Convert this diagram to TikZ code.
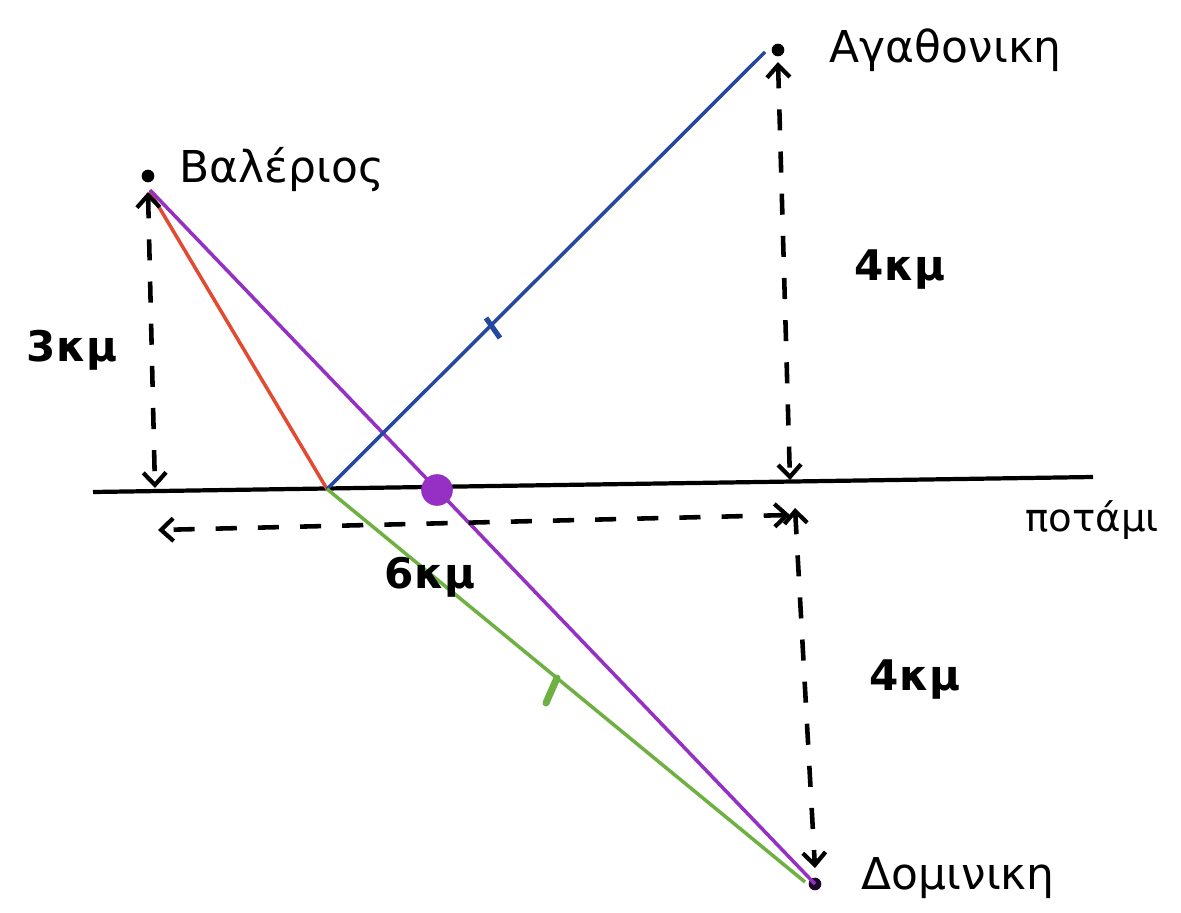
\documentclass[tikz,border=0pt]{standalone}
\usepackage{fontspec}
\setmainfont{DejaVu Sans}
\usetikzlibrary{arrows.meta, positioning}
\definecolor{redline}{RGB}{226,74,50}
\definecolor{purpleline}{RGB}{150,48,196}
\definecolor{blueline}{RGB}{36,72,160}
\definecolor{greenline}{RGB}{110,176,66}

\begin{document}
\begin{tikzpicture}[x=0.02cm, y=-0.02cm,
  dist/.style={line width=2.6pt, dash pattern=on 12pt off 12pt, <->,
    >={Straight Barb[length=7pt,width=13pt,line width=2.4pt]}},
  lbl/.style={font=\fontsize{25}{30}\selectfont, inner sep=2pt},
  kmlbl/.style={font=\fontsize{24}{30}\selectfont\bfseries, inner sep=2pt}]
\useasboundingbox (0,0) rectangle (1181,913);
% towns and river
\coordinate (V) at (148,176);
\coordinate (A) at (778,50);
\coordinate (D) at (815,884);
\coordinate (P) at (327,489);
\coordinate (M) at (437,490);
\draw[line width=2.4pt] (93,492) coordinate (r1) -- (1093,477) coordinate (r2);
\fill (V) circle (3.6pt);
\fill (A) circle (3.6pt);
\fill[black!80!purpleline] (D) circle (3.6pt);
\node[lbl, anchor=west] (vname) at (176,170) {Βαλέριος};
\node[lbl, anchor=west] (aname) at (826,50) {Αγαθονικη};
\node[lbl, anchor=west] (dname) at (858,878) {Δομινικη};
\node[lbl, font=\fontsize{22}{26}\selectfont] (river) at (1092,520) {ποτάμι};
% paths
\draw[redline, line width=2pt] (150,192) -- (P);
\draw[purpleline, line width=2pt] (150,190) -- (D);
\draw[blueline, line width=2pt] (P) -- (765,52);
\draw[greenline, line width=2pt] (P) -- (805,882);
\draw[blueline, line width=3pt] (486,318) -- (500,338);
\draw[greenline, line width=4pt, line cap=round] (557,678) -- (546,703);
\fill[purpleline] (M) circle (9pt);
% distances
\draw[dist] (148,192) -- (155,488);
\node[kmlbl] (d3) at (72,350) {3κμ};
\draw[dist] (778,62) -- (790,480);
\node[kmlbl] (d4a) at (900,270) {4κμ};
\draw[dist] (790,515) -- (158,530);
\node[kmlbl] (d6) at (430,577) {6κμ};
\draw[dist] (795,508) -- (815,868);
\node[kmlbl] (d4b) at (915,680) {4κμ};
\end{tikzpicture}
\end{document}
